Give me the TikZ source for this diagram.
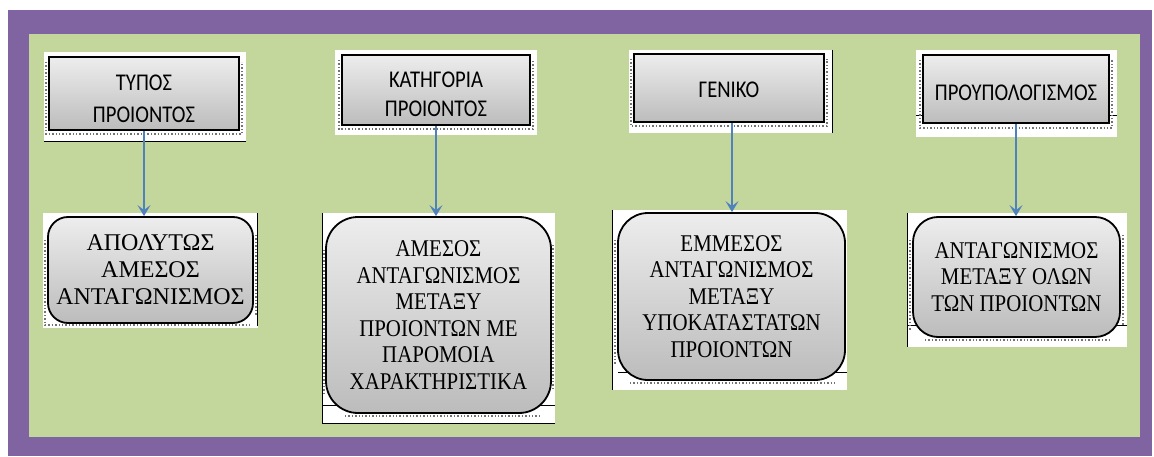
\documentclass[tikz,border=0pt]{standalone}
\usepackage{fontspec}
\setmainfont{Liberation Serif}
\newfontfamily\carlito[FakeStretch=0.86]{Carlito}
\newfontfamily\narrowserif[FakeStretch=0.87]{Liberation Serif}
\usetikzlibrary{arrows.meta}
\definecolor{frame}{RGB}{128,100,162}
\definecolor{field}{RGB}{195,214,155}
\definecolor{arrowblue}{RGB}{79,129,189}
\definecolor{shadetop}{RGB}{237,237,237}
\definecolor{shadebot}{RGB}{188,188,188}
\newcommand{\firststrut}[1]{\rule{0pt}{#1}}
\begin{document}
\begin{tikzpicture}[x=1pt,y=-1pt,
  topbox/.style={draw=black, line width=1.8pt, top color=shadetop, bottom color=shadebot,
    font=\carlito\fontsize{24}{32.5}\selectfont, align=center, inner sep=0pt},
  botbox/.style={draw=black, line width=1.8pt, rounded corners=#1, top color=shadetop, bottom color=shadebot,
    font=\narrowserif\fontsize{24}{26.5}\selectfont, align=center, inner sep=0pt},
  widebox/.style={botbox=#1, font=\rmfamily\fontsize{24}{27}\selectfont},
  bg/.style={fill=white},
  edge/.style={black, line width=0.8pt},
  shadowdots/.style={black!55, dotted, line width=1.4pt},
  link/.style={arrowblue, line width=1.5pt, -{Stealth[length=11pt,width=13pt,inset=5pt]}}]
\useasboundingbox (0,0) rectangle (1154,457);
\fill[white] (0,0) rectangle (1154,457);
\fill[frame] (8,10) rectangle (1152,456);
\fill[field] (29,34) rectangle (1140,437);

% ---- backgrounds of top boxes
\fill[bg] (44,52) rectangle (246,141);
\draw[edge] (44,141) -- (246,141);
\draw[shadowdots] (46,62) -- (46,134) -- (242,134) -- (242,62);
\fill[bg] (335,50) rectangle (537,135);
\draw[shadowdots] (339,60) -- (339,129) -- (533,129) -- (533,60);
\fill[bg] (629,50) rectangle (832,133);
\draw[edge] (832,50) -- (832,133);
\draw[shadowdots] (631,59) -- (631,126) -- (827,126) -- (827,59);
\fill[bg] (916,50) rectangle (1117,137);
\draw[edge] (916,115) -- (1117,115);
\draw[shadowdots] (920,60) -- (920,128) -- (1112,128) -- (1112,60);

% ---- backgrounds of bottom boxes
\fill[bg] (43,213) rectangle (258,328);
\draw[edge] (257,213) -- (257,326);
\draw[shadowdots] (45,240) -- (45,325) -- (250,325);
\draw[shadowdots] (256,235) -- (256,315);
\fill[bg] (322,213) rectangle (555,423);
\draw[edge] (322,213) -- (322,423) -- (555,423);
\draw[edge] (322,405) -- (555,405);
\draw[shadowdots] (324,250) -- (324,395);
\draw[shadowdots] (345,416) -- (540,416);
\draw[shadowdots] (553,245) -- (553,390);
\fill[bg] (612,210) rectangle (847,390);
\draw[edge] (612,210) -- (612,390);
\draw[edge] (618,372) -- (847,372);
\draw[shadowdots] (615,240) -- (615,365);
\draw[shadowdots] (630,383) -- (835,383);
\fill[bg] (907,213) rectangle (1127,347);
\draw[edge] (907,213) -- (907,347);
\draw[edge] (907,325) -- (1127,325);
\draw[shadowdots] (910,240) -- (910,330);
\draw[shadowdots] (925,340) -- (1110,340);
\draw[shadowdots] (1123,235) -- (1123,325);

% ---- top boxes
\node[topbox, minimum width=190pt, minimum height=73pt] (t1) at (144,93.5) {\firststrut{26pt}ΤΥΠΟΣ\\ΠΡΟΙΟΝΤΟΣ};
\node[topbox, minimum width=188pt, minimum height=70pt, font=\carlito\fontsize{24}{29.5}\selectfont] (t2) at (436,90) {\firststrut{24pt}ΚΑΤΗΓΟΡΙΑ\\ΠΡΟΙΟΝΤΟΣ};
\node[topbox, minimum width=190pt, minimum height=68pt] (t3) at (729,88) {\firststrut{20pt}ΓΕΝΙΚΟ};
\node[topbox, minimum width=186pt, minimum height=68pt] (t4) at (1016,89) {\firststrut{23pt}ΠΡΟΥΠΟΛΟΓΙΣΜΟΣ};

% ---- bottom boxes
\node[widebox=20pt, minimum width=205pt, minimum height=106pt] (b1) at (150.5,270) {ΑΠΟΛΥΤΩΣ\\ΑΜΕΣΟΣ\\ΑΝΤΑΓΩΝΙΣΜΟΣ};
\node[botbox=32pt, minimum width=225pt, minimum height=196pt] (b2) at (438.5,315) {ΑΜΕΣΟΣ\\ΑΝΤΑΓΩΝΙΣΜΟΣ\\ΜΕΤΑΞΥ\\ΠΡΟΙΟΝΤΩΝ ΜΕ\\ΠΑΡΟΜΟΙΑ\\ΧΑΡΑΚΤΗΡΙΣΤΙΚΑ};
\node[botbox=30pt, minimum width=227pt, minimum height=167pt] (b3) at (731.5,296.5) {ΕΜΜΕΣΟΣ\\ΑΝΤΑΓΩΝΙΣΜΟΣ\\ΜΕΤΑΞΥ\\ΥΠΟΚΑΤΑΣΤΑΤΩΝ\\ΠΡΟΙΟΝΤΩΝ};
\node[botbox=25pt, minimum width=207pt, minimum height=120pt] (b4) at (1016.5,277) {ΑΝΤΑΓΩΝΙΣΜΟΣ\\ΜΕΤΑΞΥ ΟΛΩΝ\\ΤΩΝ ΠΡΟΙΟΝΤΩΝ};

% ---- connectors
\draw[link] (t1.south) -- (t1.south |- b1.north);
\draw[link] (t2.south) -- (t2.south |- b2.north);
\draw[link] ([xshift=0.5pt]b3.north |- t3.south) -- ([xshift=0.5pt]b3.north);
\draw[link] (t4.south) -- (t4.south |- b4.north);
\end{tikzpicture}
\end{document}
